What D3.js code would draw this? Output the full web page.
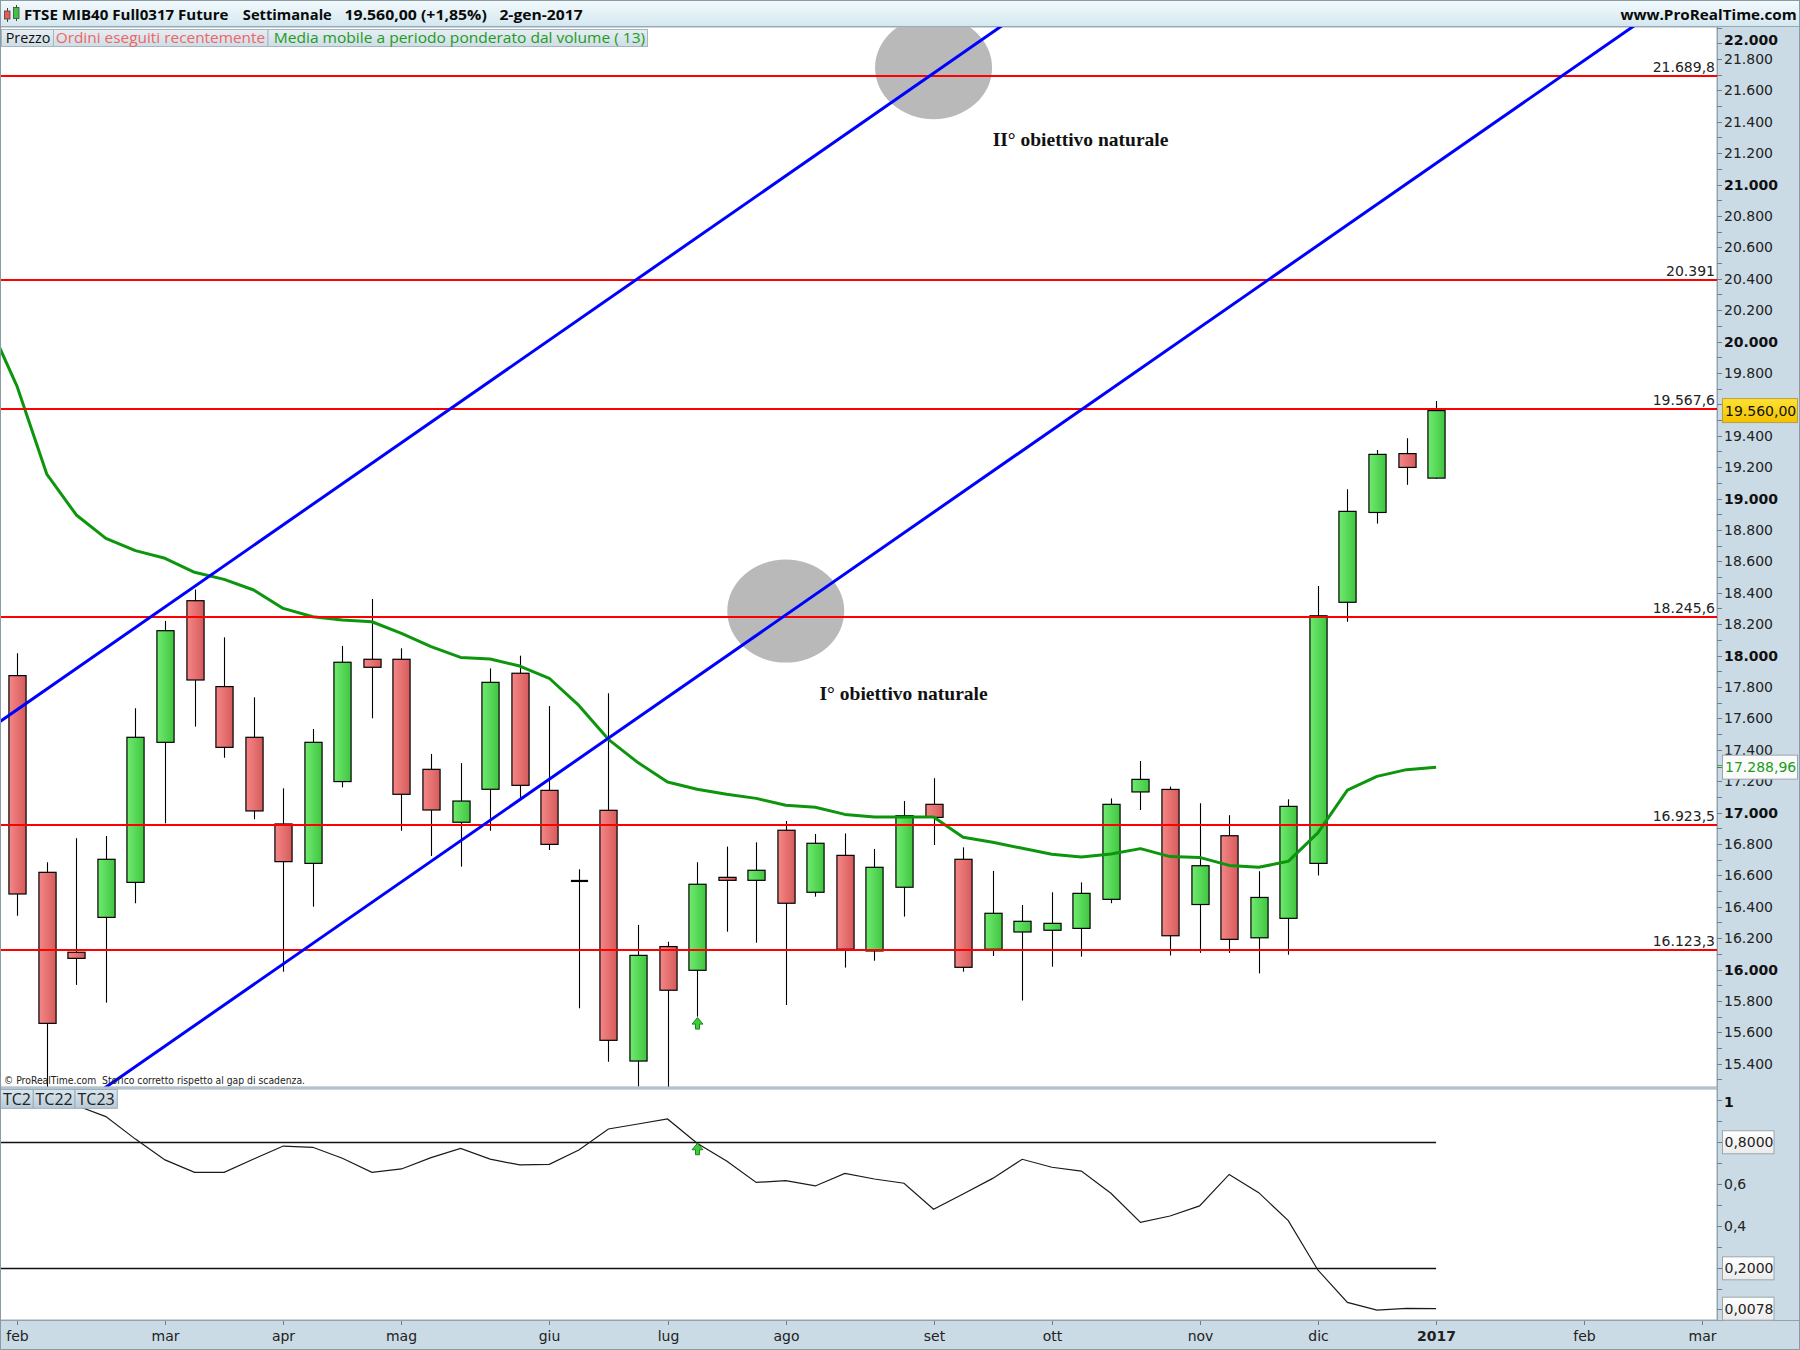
<!DOCTYPE html>
<html><head><meta charset="utf-8">
<script src="https://cdn.jsdelivr.net/npm/d3@7"></script>
<style>body{margin:0;background:#fff} svg{display:block}</style>
</head><body>
<svg id="chart" width="1800" height="1350"></svg>
<script>
// ---------------- DATA ----------------
const weeks = ["2016-02-01","2016-02-08","2016-02-15","2016-02-22","2016-02-29","2016-03-07","2016-03-14","2016-03-21","2016-03-28",
"2016-04-04","2016-04-11","2016-04-18","2016-04-25","2016-05-02","2016-05-09","2016-05-16","2016-05-23","2016-05-30",
"2016-06-06","2016-06-13","2016-06-20","2016-06-27","2016-07-04","2016-07-11","2016-07-18","2016-07-25",
"2016-08-01","2016-08-08","2016-08-15","2016-08-22","2016-08-29","2016-09-05","2016-09-12","2016-09-19","2016-09-26",
"2016-10-03","2016-10-10","2016-10-17","2016-10-24","2016-10-31","2016-11-07","2016-11-14","2016-11-21","2016-11-28",
"2016-12-05","2016-12-12","2016-12-19","2016-12-26","2017-01-02"];
const openV  = [17872,16619,16110,16332,16555,17447,18349,17802,17479,16927,16676,17197,17976,17976,17275,16938,17148,17887,17141,16564,
17014,15417,16146,15995,16587,16568,16887,16492,16727,16118,16524,17052,16702,16129,16239,16250,16262,16447,17131,17147,
16414,16852,16202,16326,16676,18339,18911,19286,19130];
const highV  = [18014,16683,16836,16850,17664,18220,18420,18116,17734,17154,17532,18061,18360,18046,17373,17315,17918,17999,17678,16638,
17759,16284,16177,16683,16783,16810,16946,16863,16867,16768,17073,17218,16778,16628,16411,16492,16555,17090,17328,17165,
17059,16983,16626,17084,18442,19059,19309,19384,19621];
const lowV   = [16343,15250,15902,15789,16422,16931,17547,17349,16957,15986,16400,17160,17600,16884,16723,16655,16884,17090,16761,15753,
15413,15255,15250,15700,16241,16171,15774,16464,16012,16056,16337,16793,15986,16086,15802,16018,16082,16422,17016,16089,
16106,16106,15975,16094,16598,18215,18840,19087,19125];
const closeV = [16481,15657,16071,16702,17479,18158,17844,17415,17010,16687,17447,17957,17925,17116,17016,17073,17829,17173,16797,16564,
15549,16090,15868,16543,16568,16632,16422,16804,16129,16651,16980,16969,16014,16358,16307,16294,16485,17052,17211,16215,
16661,16192,16459,17039,18253,18918,19281,19198,19560];
// Volume weighted moving average (13): value of the week before the first shown week, then one value per week
const vwmaWeeks = ["2016-01-25"].concat(weeks);
const vwmaV = [20130,19712,19156,18895,18746,18668,18619,18530,18485,18417,18300,18247,18226,18215,18141,18056,17988,17978,17933,17855,17682,
17466,17318,17194,17148,17116,17090,17046,17033,16988,16972,16972,16972,16842,16810,16772,16734,16717,16736,16770,16719,
16714,16663,16651,16689,16870,17142,17230,17273,17288.96];
// indicator (lower pane)
const tcV = [1.06,1.03,0.975,0.922,0.815,0.716,0.657,0.657,0.720,0.782,0.776,0.724,0.657,0.673,0.727,0.771,0.720,0.692,0.695,0.763,
0.863,0.887,0.911,0.795,0.711,0.609,0.617,0.592,0.652,0.625,0.605,0.481,0.554,0.628,0.719,0.681,0.663,0.557,0.419,0.449,
0.497,0.647,0.560,0.427,0.192,0.038,0.001,0.009,0.0078];
const tcLevels = [0.8, 0.2];
// horizontal support / resistance levels
const levels = [21689.8, 20391, 19567.6, 18245.6, 16923.5, 16123.3];
const levelLabels = ["21.689,8","20.391","19.567,6","18.245,6","16.923,5","16.123,3"];
// channel lines (start/end week, start/end value)
const channelStart = ["2016-01-25","2016-02-15"];
const channelEnd   = ["2016-09-26","2017-02-27"];
const channelFrom  = [17525, 15120];
const channelTo    = [22101, 22181];
// target circles and labels
const targetWeeks  = ["2016-08-01","2016-09-05"];
const targetValues = [18283, 21744];
const noteWeeks  = ["2016-08-09","2016-09-19"];
const noteValues = [17716, 21245];
const noteTexts  = ["I° obiettivo naturale","II° obiettivo naturale"];
// signal arrows
const arrowWeek = "2016-07-11";
// x axis ticks
const monthTicks  = ["2016-02-01","2016-03-07","2016-04-04","2016-05-02","2016-06-06","2016-07-04","2016-08-01","2016-09-05",
"2016-10-03","2016-11-07","2016-12-05","2017-01-02","2017-02-06","2017-03-06"];
const monthLabels = ["feb","mar","apr","mag","giu","lug","ago","set","ott","nov","dic","2017","feb","mar"];
const lastPrice = 19560, lastVwma = 17288.96, lastTc = 0.0078;

// ---------------- SETUP ----------------
const parse = d3.utcParse("%Y-%m-%d");
const loc = d3.formatLocale({decimal:",", thousands:".", grouping:[3], currency:["",""]});
const fInt = loc.format(",d"), f2 = loc.format(",.2f"), f4 = loc.format(".4f"), f1 = loc.format(".1f");

const svg = d3.select("#chart");
const defs = svg.append("defs");
function grad(id, c1, c2, vertical){
  const g = defs.append("linearGradient").attr("id", id)
    .attr("x1",0).attr("y1",0).attr("x2", vertical?0:1).attr("y2", vertical?1:0);
  g.append("stop").attr("offset",0).attr("stop-color",c1);
  g.append("stop").attr("offset",1).attr("stop-color",c2);
}
grad("gUp","#70ea70","#40c640",false);
grad("gDn","#f58787","#d65b5b",false);
grad("gHead","#f3fafd","#d3e7ef",true);
grad("gBox","#e6eef3","#cfdde6",true);
grad("gTc","#dbe7ee","#b8cad5",true);
grad("gYellow","#ffe234","#f2c200",true);
grad("gWhite","#ffffff","#ebebeb",true);

const paneR = 1717, priceTop = 27, priceBot = 1087, indTop = 1089, indBot = 1320;
const x = d3.scaleUtc().domain([parse(weeks[0]), parse(weeks[weeks.length-1])]).range([17.2, 1436.08]);
const y = d3.scaleLinear().domain([15258, 22000]).range([1086, 27.5]);
const yi = d3.scaleLinear().domain([-0.046, 1.044]).range([1320, 1091]);
const axisFont = "DejaVu Sans, Verdana, sans-serif";
const uiFont = "Open Sans, Noto Sans, sans-serif";

// background
svg.append("rect").attr("width",1800).attr("height",1350).attr("fill","#cadbe6");
// header
svg.append("rect").attr("x",0).attr("y",0).attr("width",1800).attr("height",27).attr("fill","url(#gHead)");
svg.append("line").attr("x1",0).attr("x2",1800).attr("y1",26.5).attr("y2",26.5).attr("stroke","#97a8b3");
// panes
svg.append("rect").attr("x",0.5).attr("y",priceTop).attr("width",paneR-0.5).attr("height",priceBot-priceTop)
  .attr("fill","#fff").attr("stroke","#9aabb7");
svg.append("rect").attr("x",0.5).attr("y",indTop).attr("width",paneR-0.5).attr("height",indBot-indTop)
  .attr("fill","#fff").attr("stroke","#9aabb7");
svg.append("line").attr("x1",paneR+0.5).attr("x2",paneR+0.5).attr("y1",27).attr("y2",1320).attr("stroke","#8fa2ae");
svg.append("line").attr("x1",0).attr("x2",1800).attr("y1",1320.5).attr("y2",1320.5).attr("stroke","#8fa2ae");

defs.append("clipPath").attr("id","cpPrice").append("rect").attr("x",1).attr("y",priceTop).attr("width",paneR-1).attr("height",priceBot-priceTop-0.5);
defs.append("clipPath").attr("id","cpInd").append("rect").attr("x",1).attr("y",indTop+0.5).attr("width",paneR-1).attr("height",indBot-indTop-0.5);

const gP = svg.append("g").attr("clip-path","url(#cpPrice)");

// target circles
gP.selectAll("ellipse.target").data(targetWeeks).join("ellipse").attr("class","target")
  .attr("cx",(d)=>x(parse(d))).attr("cy",(d,i)=>y(targetValues[i])).attr("rx",58.5).attr("ry",51.5).attr("fill","#b9b9b9");

// candles
const step = x(parse(weeks[1])) - x(parse(weeks[0]));
const bw = step*0.58;
const cg = gP.append("g");
weeks.forEach((w,i)=>{
  const cx = Math.round(x(parse(w))) + 0.5;
  const o=openV[i], c=closeV[i];
  cg.append("line").attr("x1",cx).attr("x2",cx).attr("y1",y(highV[i])).attr("y2",y(lowV[i])).attr("stroke","#000").attr("stroke-width",1.1);
  if (o === c) {
    cg.append("line").attr("x1",cx-bw/2).attr("x2",cx+bw/2).attr("y1",y(o)).attr("y2",y(o)).attr("stroke","#000").attr("stroke-width",2.2);
  } else {
    const top = y(Math.max(o,c)), bot = y(Math.min(o,c));
    cg.append("rect").attr("x",cx-bw/2).attr("y",top).attr("width",bw).attr("height",Math.max(1,bot-top))
      .attr("fill", c>o ? "url(#gUp)" : "url(#gDn)").attr("stroke","#000").attr("stroke-width",1.2);
  }
});

// VWMA line
gP.append("path").datum(vwmaV).attr("fill","none").attr("stroke","#0d960d").attr("stroke-width",3)
  .attr("stroke-linejoin","round")
  .attr("d", d3.line().x((d,i)=>x(parse(vwmaWeeks[i]))).y(d=>y(d)));

// horizontal levels
gP.selectAll("line.level").data(levels).join("line").attr("class","level")
  .attr("x1",1).attr("x2",paneR).attr("y1",d=>Math.round(y(d))).attr("y2",d=>Math.round(y(d)))
  .attr("stroke","#ff0000").attr("stroke-width",2);

// channel lines
gP.selectAll("line.chan").data(channelStart).join("line").attr("class","chan")
  .attr("x1",d=>x(parse(d))).attr("y1",(d,i)=>y(channelFrom[i]))
  .attr("x2",(d,i)=>x(parse(channelEnd[i]))).attr("y2",(d,i)=>y(channelTo[i]))
  .attr("stroke","#0000ff").attr("stroke-width",3);

// level labels
svg.selectAll("text.lvl").data(levels).join("text").attr("class","lvl")
  .attr("x",1715).attr("y",d=>Math.round(y(d))-4).attr("text-anchor","end")
  .attr("font-family",axisFont).attr("font-size",14).attr("fill","#222")
  .text((d,i)=>levelLabels[i]);

// notes
svg.selectAll("text.note").data(noteTexts).join("text").attr("class","note")
  .attr("x",(d,i)=>x(parse(noteWeeks[i]))).attr("y",(d,i)=>y(noteValues[i]))
  .attr("font-family","Liberation Serif, Times New Roman, serif").attr("font-weight","bold").attr("font-size",19.5)
  .attr("fill","#111").text(d=>d);

// arrows
function arrowPath(cx, tip){
  return `M${cx},${tip} L${cx+5.5},${tip+6.5} L${cx+2},${tip+6.5} L${cx+2},${tip+11.5} L${cx-2},${tip+11.5} L${cx-2},${tip+6.5} L${cx-5.5},${tip+6.5} Z`;
}
const ai = weeks.indexOf(arrowWeek);
const ax = Math.round(x(parse(arrowWeek)))+0.5;
svg.append("path").attr("d",arrowPath(ax, y(lowV[ai])+1)).attr("fill","#3ccc3c").attr("stroke","#138a13").attr("stroke-width",1);

// copyright
svg.append("text").attr("x",4).attr("y",1084).attr("font-family","DejaVu Sans, sans-serif").attr("font-size",10)
  .attr("fill","#222").attr("textLength",301).attr("lengthAdjust","spacingAndGlyphs")
  .text("© ProRealTime.com\u00a0\u00a0Storico corretto rispetto al gap di scadenza.");

// legend boxes
const legend = [
  {t:"Prezzo", x0:1.5, x1:53.5, tx:5.7, tl:44.8, c:"#111"},
  {t:"Ordini eseguiti recentemente", x0:53.5, x1:268, tx:55.7, tl:209.5, c:"#ef6464"},
  {t:"Media mobile a periodo ponderato dal volume ( 13)", x0:268, x1:647.5, tx:273.8, tl:371.4, c:"#1c9c1c"}];
legend.forEach(l=>{
  svg.append("rect").attr("x",l.x0).attr("y",29.5).attr("width",l.x1-l.x0).attr("height",17).attr("fill","url(#gBox)").attr("stroke","#a6b6c1");
  svg.append("text").attr("x",l.tx).attr("y",43).attr("font-family",uiFont).attr("font-size",14).attr("fill",l.c)
    .attr("textLength",l.tl).attr("lengthAdjust","spacingAndGlyphs").text(l.t);
});

// header text
const head = [
  {t:"FTSE MIB40 Full0317 Future", x:24.1, w:204.4},
  {t:"Settimanale", x:242.8, w:89},
  {t:"19.560,00 (+1,85%)", x:344.4, w:142.4},
  {t:"2-gen-2017", x:499.4, w:83.3},
  {t:"www.ProRealTime.com", x:1620.4, w:176.3}];
head.forEach(h=>{
  svg.append("text").attr("x",h.x).attr("y",19.5).attr("font-family",uiFont).attr("font-weight","bold").attr("font-size",15)
    .attr("fill","#0a0a0a").attr("textLength",h.w).attr("lengthAdjust","spacingAndGlyphs").text(h.t);
});
// header icon
svg.append("line").attr("x1",7.5).attr("x2",7.5).attr("y1",8).attr("y2",22).attr("stroke","#444");
svg.append("rect").attr("x",4.5).attr("y",11).attr("width",5.5).attr("height",8).attr("fill","#e85a5a").attr("stroke","#444").attr("stroke-width",0.8);
svg.append("line").attr("x1",16.5).attr("x2",16.5).attr("y1",5).attr("y2",21).attr("stroke","#444");
svg.append("rect").attr("x",13.5).attr("y",7.5).attr("width",5.5).attr("height",11).attr("fill","#3fc43f").attr("stroke","#444").attr("stroke-width",0.8);

// ---------- price axis ----------
const ya = svg.append("g");
const lpY = y(lastPrice);
d3.range(15300, 22001, 100).forEach(v=>{
  const yy = Math.round(y(v))+0.5;
  ya.append("line").attr("x1",paneR).attr("x2",paneR+5).attr("y1",yy).attr("y2",yy).attr("stroke","#6d7f8a");
  // labels fully hidden behind the last-price box are not drawn (as in the original)
  if (v % 200 === 0 && v >= 15400 && Math.abs(y(v) - lpY) > 9) {
    ya.append("text").attr("x",1724).attr("y",Math.max(y(v),40)).attr("dy","0.36em")
      .attr("font-family",axisFont).attr("font-size",14).attr("font-weight", v%1000===0 ? "bold":"normal")
      .attr("fill", v%1000===0 ? "#111":"#222").text(fInt(v));
  }
});
// last price box
ya.append("rect").attr("x",1722.5).attr("y",lpY-12).attr("width",75).attr("height",24).attr("fill","url(#gYellow)").attr("stroke","#b8a040");
ya.append("text").attr("x",1725).attr("y",lpY).attr("dy","0.36em").attr("font-family",axisFont).attr("font-size",14).attr("fill","#111").text(f2(lastPrice));
// vwma box
const lvY = y(lastVwma);
ya.append("line").attr("x1",paneR).attr("x2",paneR+5).attr("y1",Math.round(lvY)+0.5).attr("y2",Math.round(lvY)+0.5).attr("stroke","#1c9c1c");
ya.append("rect").attr("x",1722.5).attr("y",lvY-12).attr("width",75).attr("height",24).attr("fill","#fbfbfb").attr("stroke","#9aa6ad");
ya.append("text").attr("x",1725).attr("y",lvY).attr("dy","0.36em").attr("font-family",axisFont).attr("font-size",14).attr("fill","#1c9c1c").text(f2(lastVwma));

// ---------- indicator pane ----------
const gI = svg.append("g").attr("clip-path","url(#cpInd)");
gI.selectAll("line.tcl").data(tcLevels).join("line").attr("class","tcl")
  .attr("x1",1).attr("x2",x(parse(weeks[weeks.length-1]))).attr("y1",d=>Math.round(yi(d))+0.5).attr("y2",d=>Math.round(yi(d))+0.5)
  .attr("stroke","#111").attr("stroke-width",1.5);
gI.append("path").datum(tcV).attr("fill","none").attr("stroke","#1a1a1a").attr("stroke-width",1.2)
  .attr("d", d3.line().x((d,i)=>x(parse(weeks[i]))).y(d=>yi(d)));
svg.append("path").attr("d",arrowPath(ax, yi(tcLevels[0])+1)).attr("fill","#3ccc3c").attr("stroke","#138a13").attr("stroke-width",1);
// TC boxes
[["TC2",0.5,33.3],["TC22",33.3,75],["TC23",75,117.3]].forEach(b=>{
  svg.append("rect").attr("x",b[1]).attr("y",1089.5).attr("width",b[2]-b[1]).attr("height",18.8).attr("fill","url(#gTc)").attr("stroke","#98aebb");
  svg.append("text").attr("x",(b[1]+b[2])/2).attr("y",1104.5).attr("text-anchor","middle").attr("font-family",uiFont)
    .attr("font-size",16).attr("fill","#222").text(b[0]);
});
// indicator axis
const ia = svg.append("g");
d3.range(0.1, 1.001, 0.1).forEach(v=>{
  const yy = Math.round(yi(v))+0.5;
  ia.append("line").attr("x1",paneR).attr("x2",paneR+5).attr("y1",yy).attr("y2",yy).attr("stroke","#6d7f8a");
});
ia.append("text").attr("x",1724).attr("y",yi(1)+2).attr("dy","0.36em").attr("font-family",axisFont).attr("font-size",14)
  .attr("font-weight","bold").attr("fill","#111").text(fInt(1));
[0.6,0.4].forEach(v=>{
  ia.append("text").attr("x",1724).attr("y",yi(v)).attr("dy","0.36em").attr("font-family",axisFont).attr("font-size",14)
    .attr("fill","#222").text(f1(v));
});
tcLevels.concat([lastTc]).forEach(v=>{
  const yy = yi(v);
  ia.append("line").attr("x1",paneR).attr("x2",paneR+5).attr("y1",Math.round(yy)+0.5).attr("y2",Math.round(yy)+0.5).attr("stroke","#6d7f8a");
  ia.append("rect").attr("x",1722.5).attr("y",yy-11.5).attr("width",51.5).attr("height",23).attr("fill","url(#gWhite)").attr("stroke","#9aa6ad");
  ia.append("text").attr("x",1724.5).attr("y",yy).attr("dy","0.36em").attr("font-family",axisFont).attr("font-size",14)
    .attr("fill","#222").text(f4(v));
});

// ---------- x axis ----------
const xa = svg.append("g");
monthTicks.forEach((m,i)=>{
  const xx = Math.round(x(parse(m)))+0.5;
  xa.append("line").attr("x1",xx).attr("x2",xx).attr("y1",1321).attr("y2",1325).attr("stroke","#6d7f8a");
  xa.append("text").attr("x",xx).attr("y",1341).attr("text-anchor","middle").attr("font-family",axisFont).attr("font-size",14)
    .attr("font-weight", monthLabels[i]==="2017" ? "bold":"normal").attr("fill","#222").text(monthLabels[i]);
});

// outer frame
svg.append("rect").attr("x",0.5).attr("y",0.5).attr("width",1799).attr("height",1349).attr("fill","none").attr("stroke","#8a9ba6");
</script>
</body></html>
